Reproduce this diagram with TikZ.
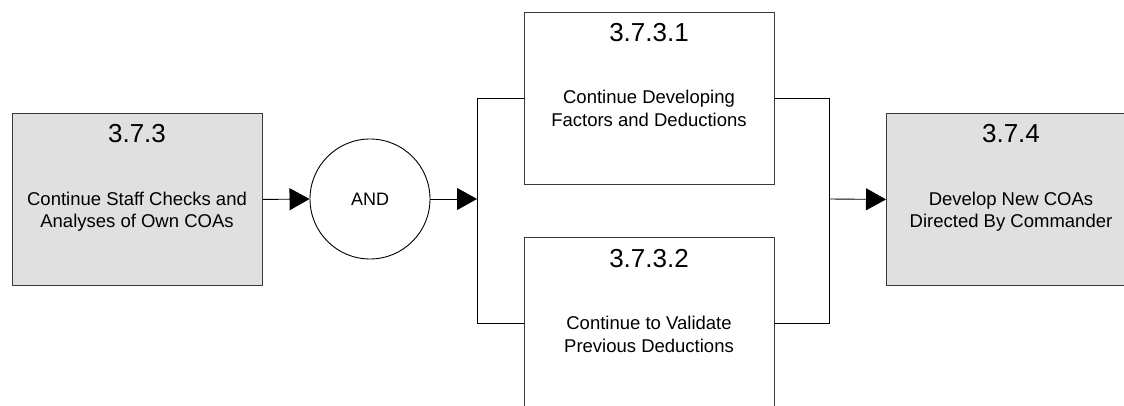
\documentclass[tikz,border=0pt]{standalone}
\usepackage{fontspec}
\setmainfont{Liberation Sans}
\usetikzlibrary{arrows.meta}
\definecolor{boxgray}{HTML}{E0E0E0}
\definecolor{edgegray}{HTML}{3A3A3A}
\tikzset{
  procbox/.style={draw=edgegray, line width=0.9pt, rectangle, minimum width=250pt, minimum height=172pt, inner sep=0pt, anchor=north west},
  shaded/.style={fill=boxgray},
  plain/.style={fill=white},
  titletext/.style={font=\fontsize{26pt}{30pt}\selectfont, anchor=base, inner sep=0pt},
  bodytext/.style={font=\fontsize{18.5pt}{23pt}\selectfont, anchor=base, inner sep=0pt},
  conn/.style={draw=black, line width=0.9pt},
  arr/.style={conn, -{Triangle[length=20pt,width=22pt]}},
  andnode/.style={draw=black, line width=0.9pt, circle, minimum size=120pt, inner sep=0pt, fill=white, font=\fontsize{18pt}{22pt}\selectfont}
}
\begin{document}
\begin{tikzpicture}[x=1pt,y=-1pt]
\useasboundingbox (0,0) rectangle (1124,406);
\clip (0,0) rectangle (1124,406);
\fill[white] (0,0) rectangle (1124,406);

% boxes
\node[procbox, shaded] (L) at (12,113) {};
\node[procbox, plain] (T) at (524,12) {};
\node[procbox, plain] (B) at (524,237) {};
\node[procbox, shaded] (R) at (886,113) {};
\node[andnode] (AND) at (370,199) {AND};

% texts
\node[titletext] (Lt) at (137,143) {3.7.3};
\node[bodytext] (Lb1) at (137,205) {Continue Staff Checks and};
\node[bodytext] (Lb2) at (137,228) {Analyses of Own COAs};

\node[titletext] (Tt) at (649,42) {3.7.3.1};
\node[bodytext] (Tb1) at (649,104) {Continue Developing};
\node[bodytext] (Tb2) at (649,127) {Factors and Deductions};

\node[titletext] (Bt) at (649,267) {3.7.3.2};
\node[bodytext] (Bb1) at (649,329) {Continue to Validate};
\node[bodytext] (Bb2) at (649,352) {Previous Deductions};

\node[titletext] (Rt) at (1011,143) {3.7.4};
\node[bodytext] (Rb1) at (1011,205) {Develop New COAs};
\node[bodytext] (Rb2) at (1011,228) {Directed By Commander};

% junction points
\coordinate (fork) at (477,199);
\coordinate (join) at (829,199);

% connectors
\draw[arr] (L.east) -- (AND.west);
\draw[arr] (AND.east) -- (fork);
\draw[conn] (T.west) -| (fork);
\draw[conn] (B.west) -| (fork);
\draw[conn] (T.east) -| (join);
\draw[conn] (B.east) -| (join);
\draw[arr] (join) -- (R.west);
\end{tikzpicture}
\end{document}
